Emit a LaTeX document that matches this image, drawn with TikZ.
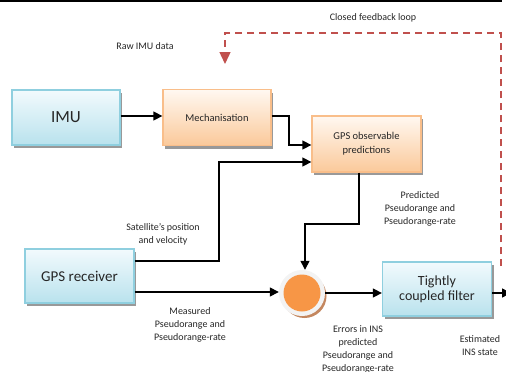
\documentclass[tikz,border=0pt]{standalone}
\usepackage{fontspec}
\setmainfont{Carlito}
\usetikzlibrary{arrows.meta,shadows}
\definecolor{bluetop}{HTML}{F2FAFD}
\definecolor{bluebot}{HTML}{B9E2ED}
\definecolor{blueedge}{HTML}{8FCFDF}
\definecolor{orgtop}{HTML}{FFF8F1}
\definecolor{orgbot}{HTML}{FBC99A}
\definecolor{orgedge}{HTML}{F9BE8A}
\definecolor{circor}{HTML}{F79646}
\definecolor{circring}{HTML}{F3F3F3}
\definecolor{circshadow}{HTML}{C4875F}
\definecolor{loopred}{HTML}{C0504D}
\definecolor{txt}{HTML}{262626}
\begin{document}
\begin{tikzpicture}[x=1pt,y=-1pt,
  base/.style={draw,line width=1.3pt,inner sep=0pt,align=center,text=txt,
    drop shadow={shadow xshift=2pt,shadow yshift=-3pt,fill=black!40,opacity=1}},
  bluebox/.style={base,draw=blueedge,top color=bluetop,bottom color=bluebot},
  orgbox/.style={base,draw=orgedge,top color=orgtop,bottom color=orgbot},
  lbl/.style={align=center,text=txt,font=\fontsize{10}{13}\selectfont,inner sep=0pt},
  conn/.style={line width=1.4pt,-{Triangle[length=9pt,width=9pt]}},
  plain/.style={line width=1.4pt}
]
\useasboundingbox (0,0) rectangle (506,372);
\draw[line width=1.5pt] (0,0.75) -- (502,0.75);
% boxes
\node[bluebox,minimum width=108pt,minimum height=55pt,font=\fontsize{17}{20}\selectfont] (imu) at (66,117.5) {IMU};
\node[orgbox,minimum width=108pt,minimum height=56pt,font=\fontsize{10.5}{14}\selectfont] (mech) at (217,117.5) {Mechanisation};
\node[orgbox,minimum width=109pt,minimum height=56pt,font=\fontsize{10.5}{14}\selectfont] (obs) at (366.5,144) {GPS observable\\predictions};
\node[bluebox,minimum width=109pt,minimum height=54pt,font=\fontsize{15}{18}\selectfont] (gps) at (79.5,276) {GPS receiver};
\node[bluebox,minimum width=109pt,minimum height=54pt,font=\fontsize{14}{15}\selectfont] (filt) at (437,289) {Tightly\\coupled filter};
% summing circle
\fill[circshadow] (304.5,296) circle (22pt);
\node[circle,fill=circring,minimum size=46pt,inner sep=0pt] (sum) at (302,293) {};
\fill[circor] (sum.center) circle (18.5pt);
% connectors
\draw[conn] (imu.east |- 0,116) -- (mech.west |- 0,116);
\draw[conn] (mech.east |- 0,116) -| (289,145) -- (obs.west |- 0,145);
\draw[conn] (gps.east |- 0,261) -| (219,162) -- (obs.west |- 0,162);
\draw[conn] (obs.south -| 359,0) |- (305,224) -- (sum.north -| 305,0);
\draw[conn] (gps.east |- 0,292) -- (sum.west |- 0,292);
\draw[conn] (sum.east |- 0,293) -- (filt.west |- 0,293);
\coordinate (out) at (511,293);
\draw[conn] (filt.east |- 0,293) -- (out);
% feedback loop
\coordinate (fbstart) at (501,266);
\coordinate (fbend) at (225,64);
\draw[loopred,line width=1.4pt,dash pattern=on 7pt off 5pt,-{Triangle[length=12pt,width=11pt]}] (fbstart) -- (501,33) -| (fbend);
% labels
\node[lbl] (l1) at (373,18) {Closed feedback loop};
\node[lbl] (l2) at (145,46) {Raw IMU data};
\node[lbl] (l3) at (163,234) {Satellite's position\\and velocity};
\node[lbl] (l4) at (190,325) {Measured\\Pseudorange and\\Pseudorange-rate};
\node[lbl] (l5) at (420,209) {Predicted\\Pseudorange and\\Pseudorange-rate};
\node[lbl,anchor=north] (l6) at (358,325) {Errors in INS\\predicted\\Pseudorange and\\Pseudorange-rate};
\node[lbl] (l7) at (480,345.5) {Estimated\\INS state};
\end{tikzpicture}
\end{document}
